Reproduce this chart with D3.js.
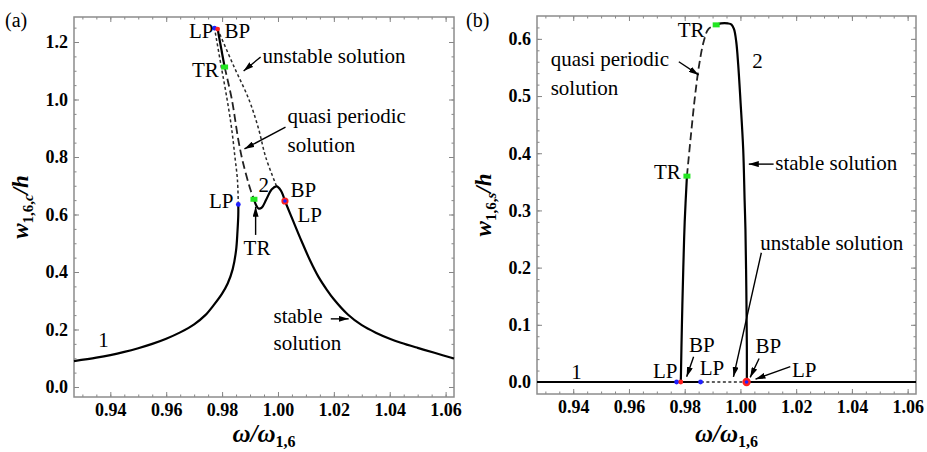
<!DOCTYPE html>
<html>
<head>
<meta charset="utf-8">
<script src="https://cdn.jsdelivr.net/npm/d3@7"></script>
<style>
  body { margin: 0; background: #fff; }
  svg text { font-family: "Liberation Serif", "Times New Roman", serif; }
</style>
</head>
<body>
<svg id="fig" width="927" height="452"></svg>
<script>
// frequency ratio w/w_1,6 shown on both panels
var omegaDomain = [0.927, 1.063];
var xTicks = [0.94, 0.96, 0.98, 1.00, 1.02, 1.04, 1.06];
var yTicksA = [0.0, 0.2, 0.4, 0.6, 0.8, 1.0, 1.2];
var yTicksB = [0.0, 0.1, 0.2, 0.3, 0.4, 0.5, 0.6];

// (a) cosine amplitude w_1,6,c/h  -- [omega, amplitude]
var aStableLeft = [[0.927, 0.090], [0.935, 0.102], [0.940, 0.111], [0.945, 0.122], [0.950, 0.135],
  [0.955, 0.150], [0.960, 0.168], [0.965, 0.190], [0.970, 0.218], [0.974, 0.250], [0.977, 0.285],
  [0.980, 0.325], [0.982, 0.360], [0.9838, 0.410], [0.9850, 0.475], [0.9855, 0.540],
  [0.9858, 0.600], [0.9858, 0.635]];
var aUnstableLeft = [[0.9858, 0.635], [0.9855, 0.720], [0.9846, 0.800], [0.9834, 0.900],
  [0.9818, 1.000], [0.9796, 1.120], [0.9773, 1.248]];
var aUnstableRight = [[0.9784, 1.245], [0.9840, 1.120], [0.9896, 1.000], [0.9930, 0.900],
  [0.9956, 0.800], [0.9995, 0.698]];
var aBranch2Top = [[0.9784, 1.245], [0.9809, 1.113]];
var aQuasi = [[0.9809, 1.113], [0.9835, 1.000], [0.9858, 0.860], [0.9875, 0.780],
  [0.9902, 0.685], [0.9914, 0.653]];
var aBump = [[0.9914, 0.653], [0.9921, 0.634], [0.9930, 0.621], [0.9942, 0.624], [0.9958, 0.652],
  [0.9978, 0.688], [0.9995, 0.698], [1.0010, 0.684], [1.0025, 0.647]];
var aStableRight = [[1.0025, 0.647], [1.0055, 0.576], [1.0085, 0.506], [1.0115, 0.440],
  [1.0145, 0.383], [1.0175, 0.338], [1.020, 0.305], [1.025, 0.252], [1.030, 0.215],
  [1.035, 0.189], [1.040, 0.168], [1.044, 0.154], [1.050, 0.136], [1.056, 0.119], [1.063, 0.099]];
var aPoints = [
  { kind: "LP", w: 0.9773, v: 1.248 }, { kind: "BP", w: 0.9784, v: 1.245 },
  { kind: "TR", w: 0.9809, v: 1.113 }, { kind: "TR", w: 0.9914, v: 0.653 },
  { kind: "LP", w: 0.9858, v: 0.635 }, { kind: "BPLP", w: 1.0025, v: 0.647 }];

// (b) sine amplitude w_1,6,s/h
var bStableLeft = [[0.927, 0], [0.9858, 0]];
var bUnstable = [[0.9858, 0], [1.0023, 0]];
var bStableRight = [[1.0023, 0], [1.063, 0]];
var bBranch2Left = [[0.9786, 0], [0.9790, 0.10], [0.9795, 0.20], [0.9800, 0.28], [0.9808, 0.36]];
var bQuasi = [[0.9808, 0.36], [0.9822, 0.43], [0.9837, 0.50], [0.9852, 0.555], [0.9868, 0.595],
  [0.9885, 0.617], [0.9913, 0.6245]];
var bBranch2Right = [[0.9913, 0.6245], [0.9930, 0.627], [0.9955, 0.627], [0.9968, 0.625],
  [0.9977, 0.617], [0.9985, 0.595], [0.9992, 0.555], [1.0000, 0.493], [1.0010, 0.406],
  [1.0015, 0.318], [1.0018, 0.266], [1.0021, 0.167], [1.0023, 0.06], [1.0023, 0]];
var bPoints = [
  { kind: "LP", w: 0.9771, v: 0 }, { kind: "BP", w: 0.9786, v: 0 },
  { kind: "LP", w: 0.9857, v: 0 }, { kind: "BPLP", w: 1.0022, v: 0 },
  { kind: "TR", w: 0.9808, v: 0.36 }, { kind: "TR", w: 0.9913, v: 0.6245 }];

var svg = d3.select("#fig");

svg.append("defs").append("marker")
  .attr("id", "head")
  .attr("viewBox", "0 0 10 6")
  .attr("refX", 10).attr("refY", 3)
  .attr("markerWidth", 10).attr("markerHeight", 6)
  .attr("markerUnits", "userSpaceOnUse")
  .attr("orient", "auto")
  .append("path").attr("d", "M0,0L10,3L0,6z").attr("fill", "#000");

var styles = {
  solid: { width: 2.2, dash: null, color: "#000" },
  unstable: { width: 1.5, dash: "3,2.5", color: "#2a2a2a" },
  quasi: { width: 1.8, dash: "8,4", color: "#222" }
};

function drawPanel(p) {
  var g = svg.append("g");
  var x = d3.scaleLinear().domain(omegaDomain).range([p.left, p.right]);
  var y = d3.scaleLinear().domain(p.yDomain).range([p.bottom, p.top]);

  // frame ticks on all four sides, pointing inward
  var minorX = d3.range(0.93, 1.0626, 0.005);
  var minorY = d3.range(0, p.yDomain[1], p.minorStep);
  function ticks(axis, vals, size, tr, labels) {
    var a = axis.tickValues(vals).tickSize(-size).tickPadding(p.pad);
    if (!labels) a.tickFormat("");
    var ag = g.append("g").attr("transform", tr).call(a);
    ag.select(".domain").remove();
    ag.selectAll("line").attr("stroke", "#858585");
    ag.selectAll("text").attr("font-size", 18).attr("font-weight", "bold")
      .attr("font-family", "Liberation Serif").attr("fill", "#000");
    return ag;
  }
  ticks(d3.axisBottom(x), minorX, 2.5, "translate(0," + p.bottom + ")", false);
  ticks(d3.axisTop(x), minorX, 2.5, "translate(0," + p.top + ")", false);
  ticks(d3.axisBottom(x).tickFormat(d3.format(".2f")), xTicks, 5, "translate(0," + p.bottom + ")", true);
  ticks(d3.axisTop(x), xTicks, 5, "translate(0," + p.top + ")", false);
  ticks(d3.axisLeft(y), minorY, 2.5, "translate(" + p.left + ",0)", false);
  ticks(d3.axisRight(y), minorY, 2.5, "translate(" + p.right + ",0)", false);
  ticks(d3.axisLeft(y).tickFormat(d3.format(".1f")), p.yTicks, 5, "translate(" + p.left + ",0)", true);
  ticks(d3.axisRight(y), p.yTicks, 5, "translate(" + p.right + ",0)", false);

  g.append("rect")
    .attr("x", p.left).attr("y", p.top)
    .attr("width", p.right - p.left).attr("height", p.bottom - p.top)
    .attr("fill", "none").attr("stroke", "#8c8c8c").attr("stroke-width", 1.5);

  var line = d3.line()
    .x(function (d) { return x(d[0]); })
    .y(function (d) { return y(d[1]); })
    .curve(d3.curveCatmullRom.alpha(0.5));

  p.curves.forEach(function (c) {
    var s = styles[c.style];
    g.append("path").datum(c.data)
      .attr("d", line)
      .attr("fill", "none")
      .attr("stroke", s.color)
      .attr("stroke-width", c.width || s.width)
      .attr("stroke-dasharray", s.dash)
      .attr("stroke-linejoin", "round");
  });

  // bifurcation points
  p.points.forEach(function (d) {
    var cx = x(d.w), cy = y(d.v);
    if (d.kind === "TR") {
      g.append("rect").attr("x", cx - 3.5).attr("y", cy - 2.5)
        .attr("width", 7).attr("height", 5).attr("fill", "#22e622");
    } else if (d.kind === "BPLP") {
      g.append("circle").attr("cx", cx).attr("cy", cy).attr("r", p.bigBP).attr("fill", "#ff1e1e");
      g.append("circle").attr("cx", cx).attr("cy", cy).attr("r", 1.8).attr("fill", "#1f1fff");
    } else {
      g.append("circle").attr("cx", cx).attr("cy", cy).attr("r", 2.4)
        .attr("fill", d.kind === "LP" ? "#1f1fff" : "#ff1e1e");
    }
  });

  p.arrows.forEach(function (a) {
    g.append("line")
      .attr("x1", x(a[0])).attr("y1", y(a[1]))
      .attr("x2", x(a[2])).attr("y2", y(a[3]))
      .attr("stroke", "#000").attr("stroke-width", 1.4)
      .attr("marker-end", "url(#head)");
  });

  p.notes.forEach(function (n) {
    g.append("text")
      .attr("x", x(n.w)).attr("y", y(n.v))
      .attr("text-anchor", n.anchor || "start")
      .attr("font-size", 21)
      .text(n.t);
  });

  // axis titles
  var cxm = (p.left + p.right) / 2;
  var xt = g.append("text").attr("x", cxm).attr("y", 442)
    .attr("text-anchor", "middle").attr("font-weight", "bold").attr("font-style", "italic")
    .attr("font-size", 25);
  xt.append("tspan").text("\u03c9/\u03c9");
  xt.append("tspan").attr("font-size", 16).attr("font-style", "normal").attr("dy", 5).text("1,6");

  var yt = g.append("text")
    .attr("transform", "translate(" + (p.left - 46) + "," + ((p.top + p.bottom) / 2) + ") rotate(-90)")
    .attr("text-anchor", "middle").attr("font-weight", "bold").attr("font-style", "italic")
    .attr("font-size", 23);
  yt.append("tspan").text("w");
  yt.append("tspan").attr("font-size", 15).attr("font-style", "normal").attr("dy", 5).text("1,6,");
  yt.append("tspan").attr("font-size", 15).text(p.sub);
  yt.append("tspan").attr("dy", -5).text("/h");

  svg.append("text").attr("x", p.tagX).attr("y", 27)
    .attr("font-family", "Liberation Sans, Arial, sans-serif")
    .attr("font-size", 20).text(p.tag);
}

drawPanel({
  tag: "(a)", tagX: 5, sub: "c",
  left: 74, right: 454, top: 17, bottom: 397,
  yDomain: [-0.0348, 1.287], yTicks: yTicksA, minorStep: 0.05, pad: 6, bigBP: 3.6,
  curves: [
    { data: aStableLeft, style: "solid" },
    { data: aUnstableLeft, style: "unstable" },
    { data: aUnstableRight, style: "unstable" },
    { data: aQuasi, style: "quasi" },
    { data: aBranch2Top, style: "solid" },
    { data: aBump, style: "solid" },
    { data: aStableRight, style: "solid" }
  ],
  points: aPoints,
  arrows: [
    [0.9938, 1.148, 0.9877, 1.099],
    [1.0027, 0.904, 0.9880, 0.828],
    [0.9920, 0.529, 0.9920, 0.627],
    [1.0189, 0.237, 1.0253, 0.237]
  ],
  notes: [
    { t: "LP", w: 0.9769, v: 1.214, anchor: "end" },
    { t: "BP", w: 0.9809, v: 1.214 },
    { t: "unstable solution", w: 0.9945, v: 1.127 },
    { t: "TR", w: 0.9788, v: 1.078, anchor: "end" },
    { t: "quasi periodic", w: 1.0034, v: 0.918 },
    { t: "solution", w: 1.0034, v: 0.817 },
    { t: "2", w: 0.9930, v: 0.678 },
    { t: "BP", w: 1.0045, v: 0.661 },
    { t: "LP", w: 0.9841, v: 0.623, anchor: "end" },
    { t: "LP", w: 1.0070, v: 0.574 },
    { t: "TR", w: 0.9925, v: 0.459, anchor: "middle" },
    { t: "1", w: 0.9357, v: 0.139 },
    { t: "stable", w: 0.9984, v: 0.223 },
    { t: "solution", w: 0.9984, v: 0.129 }
  ]
});

drawPanel({
  tag: "(b)", tagX: 466, sub: "s",
  left: 537, right: 916, top: 16, bottom: 394,
  yDomain: [-0.021, 0.640], yTicks: yTicksB, minorStep: 0.02, pad: 6, bigBP: 4.2,
  curves: [
    { data: bStableLeft, style: "solid" },
    { data: bUnstable, style: "unstable", width: 1.7 },
    { data: bStableRight, style: "solid" },
    { data: bBranch2Left, style: "solid" },
    { data: bQuasi, style: "quasi" },
    { data: bBranch2Right, style: "solid" }
  ],
  points: bPoints,
  arrows: [
    [0.9779, 0.560, 0.9850, 0.537],
    [1.0119, 0.381, 1.0030, 0.381],
    [1.0075, 0.226, 0.9975, 0.009],
    [0.9832, 0.044, 0.9807, 0.009],
    [1.0067, 0.041, 1.0035, 0.008],
    [1.0179, 0.027, 1.0054, 0.005]
  ],
  notes: [
    { t: "TR", w: 0.9871, v: 0.603, anchor: "end" },
    { t: "quasi periodic", w: 0.9319, v: 0.553 },
    { t: "solution", w: 0.9319, v: 0.502 },
    { t: "2", w: 1.0042, v: 0.549 },
    { t: "TR", w: 0.9786, v: 0.355, anchor: "end" },
    { t: "stable solution", w: 1.0125, v: 0.371 },
    { t: "unstable solution", w: 1.0071, v: 0.231 },
    { t: "BP", w: 0.9815, v: 0.053 },
    { t: "LP", w: 0.9774, v: 0.0065, anchor: "end" },
    { t: "LP", w: 0.9854, v: 0.012 },
    { t: "BP", w: 1.0054, v: 0.051 },
    { t: "LP", w: 1.0185, v: 0.009 },
    { t: "1", w: 0.9393, v: 0.005 }
  ]
});
</script>
</body>
</html>
